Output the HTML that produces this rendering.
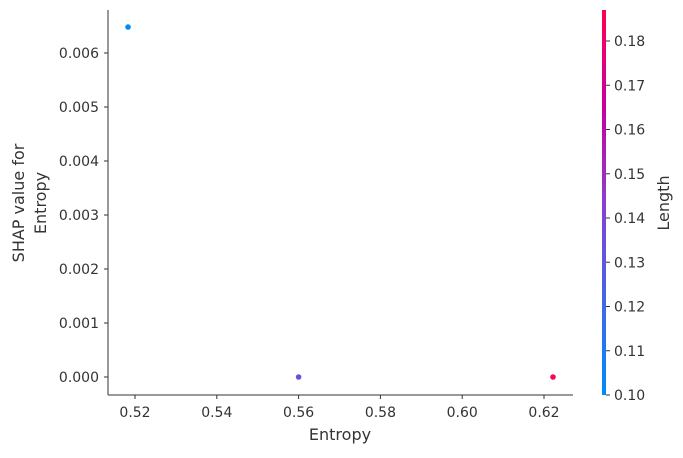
<!DOCTYPE html>
<html><head><meta charset="utf-8"><style>
body{margin:0;background:#fff;}
svg text{font-family:"DejaVu Sans","Liberation Sans",sans-serif;fill:#333;}
</style></head><body>
<svg id="chart" width="683" height="453" viewBox="0 0 683 453">
<defs><linearGradient id="cg" x1="0" y1="1" x2="0" y2="0">
<stop offset="0" stop-color="#008bfb"/><stop offset="0.5" stop-color="#8a3fd0"/><stop offset="0.75" stop-color="#c7009d"/><stop offset="1" stop-color="#ff0052"/></linearGradient></defs>
<g id="axes"></g>
<g id="pts"></g>
</svg>
<script>
const xTicks=[0.52,0.54,0.56,0.58,0.60,0.62];
const yTicks=[0.000,0.001,0.002,0.003,0.004,0.005,0.006];
const cTicks=[0.10,0.11,0.12,0.13,0.14,0.15,0.16,0.17,0.18];
const entropy=[0.5183,0.5600,0.6222];
const shapVals=[0.00648,0.0,0.0];
const lengthVals=[0.100,0.132,0.187];
const NS='http://www.w3.org/2000/svg';
const X=v=>135+(v-0.52)/0.02*81.8;
const Y=v=>377-v/0.001*54;
const C=v=>395-(v-0.10)/0.01*44.25;
const cmin=0.10,cmax=0.187;
function mk(t,a,p){const e=document.createElementNS(NS,t);for(const k in a)e.setAttribute(k,a[k]);(p||document.getElementById('axes')).appendChild(e);return e;}
function lerp(a,b,t){return a.map((x,i)=>Math.round(x+(b[i]-x)*t));}
function col(v){const t=Math.max(0,Math.min(1,(v-cmin)/(cmax-cmin)));
 const s=[[0,[0,139,251]],[0.5,[138,63,208]],[0.75,[199,0,157]],[1,[255,0,82]]];
 for(let i=0;i<3;i++){if(t<=s[i+1][0]){const c=lerp(s[i][1],s[i+1][1],(t-s[i][0])/(s[i+1][0]-s[i][0]));return 'rgb('+c.join(',')+')';}}return 'rgb(255,0,82)';}
let e;
e=mk('line',{x1:108,y1:10,x2:108,y2:395,stroke:'#333','stroke-width':1});

e=mk('line',{x1:108,y1:395,x2:573,y2:395,stroke:'#333','stroke-width':1});

xTicks.forEach(v=>{const x=X(v);
 e=mk('line',{x1:x,y1:395,x2:x,y2:399,stroke:'#333'});
 e=mk('text',{x:x,y:417,'font-size':14,'text-anchor':'middle'});e.textContent=v.toFixed(2);
 });
yTicks.forEach(v=>{const y=Y(v);
 e=mk('line',{x1:104,y1:y,x2:108,y2:y,stroke:'#333'});
 e=mk('text',{x:99,y:y+5,'font-size':14,'text-anchor':'end'});e.textContent=v.toFixed(3);
 });
e=mk('text',{x:340,y:440,'font-size':16,'text-anchor':'middle'});e.textContent='Entropy';

e=mk('text',{'font-size':16,'text-anchor':'middle',transform:'translate(24,203) rotate(-90)'});

let t1=mk('tspan',{x:0,dy:0},e);t1.textContent='SHAP value for';
let t2=mk('tspan',{x:0,dy:22},e);t2.textContent='Entropy';
e=mk('rect',{x:602,y:10,width:4,height:385,fill:'url(#cg)'});

cTicks.forEach(v=>{const y=C(v);
 e=mk('line',{x1:606,y1:y,x2:610,y2:y,stroke:'#333'});
 e=mk('text',{x:614,y:y+5,'font-size':14});e.textContent=v.toFixed(2);
 });
e=mk('text',{'font-size':16,'text-anchor':'middle',transform:'translate(669,203) rotate(-90)'});e.textContent='Length';

const pg=document.getElementById('pts');
entropy.forEach((v,i)=>{const c=mk('circle',{cx:X(v),cy:Y(shapVals[i]),r:2.8,fill:col(lengthVals[i])},pg);
 
 });
</script>
</body></html>
